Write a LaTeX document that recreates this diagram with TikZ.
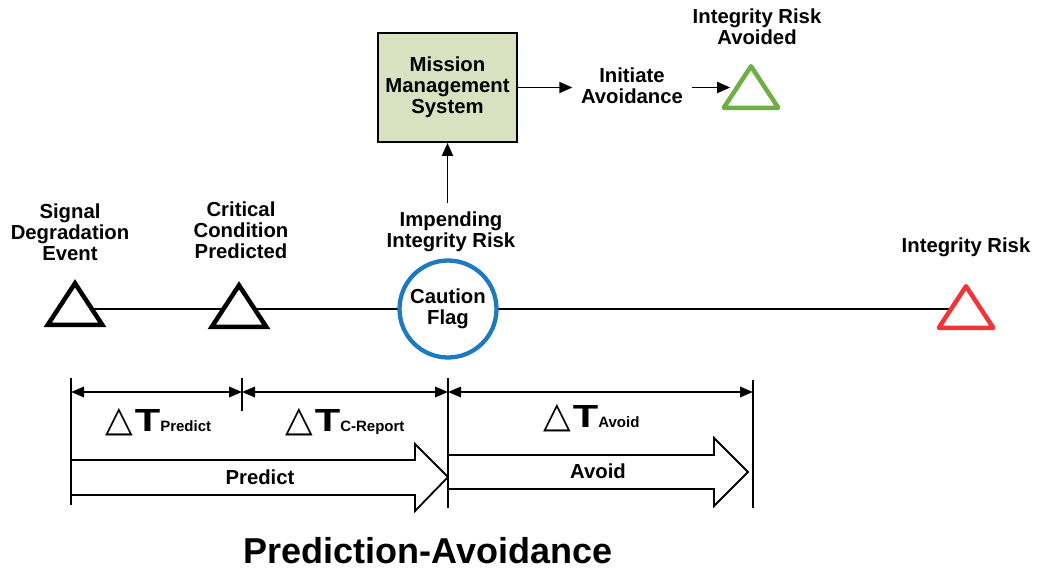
\documentclass[tikz,border=0pt]{standalone}
\usepackage{fontspec}
\usepackage{graphicx}
\setmainfont{Liberation Sans}
\newfontfamily\symfont{DejaVu Sans}
\usetikzlibrary{arrows.meta,shapes.geometric,backgrounds,calc}
\definecolor{boxgreen}{RGB}{216,226,192}
\definecolor{cfblue}{RGB}{30,122,190}
\definecolor{irred}{RGB}{240,52,58}
\definecolor{irgreen}{RGB}{112,173,71}
\begin{document}
\begin{tikzpicture}[x=1pt,y=-1pt,
  lbl/.style={font=\bfseries\fontsize{20.3}{21}\selectfont, align=center, inner sep=0pt},
  tri/.style={regular polygon, regular polygon sides=3, minimum size=63pt, yscale=0.88,
              inner sep=0pt, fill=white, line width=4.5pt, draw},
  thinline/.style={line width=1.8pt},
  arr/.style={thinline, -{Triangle[length=13pt,width=11pt]}},
  dim/.style={thinline, {Triangle[length=13pt,width=10.5pt]}-{Triangle[length=13pt,width=10.5pt]}},
  bigarrow/.style={thinline, fill=white, line join=miter},
  dlabel/.style={anchor=base west, inner sep=0pt},
]
\useasboundingbox (0,0) rectangle (1038,573);

% timeline markers
\node[tri] (t1) at (75,311) {};
\node[tri] (t2) at (239,313) {};
\node[circle, draw=cfblue, line width=4.3pt, minimum size=97pt, fill=white, lbl] (cf) at (448,309) {Caution\\Flag};
\node[tri, draw=irred, line join=round] (ir) at (966,314) {};
\node[tri, draw=irgreen, line join=round] (ira) at (751,94) {};

% box
\node[draw, fill=boxgreen, line width=1.8pt, minimum width=139pt, minimum height=109pt, lbl] (mms) at (447.5,87.5) {Mission\\Management\\System};

% labels
\node[lbl] (sde) at (70,232) {Signal\\Degradation\\Event};
\node[lbl] (ccp) at (241,230) {Critical\\Condition\\Predicted};
\node[lbl] (iir) at (451,231.5) {Impending\\Integrity Risk};
\node[lbl] (irl) at (966,247) {Integrity Risk};
\node[lbl] (iral) at (757,27) {Integrity Risk\\Avoided};
\node[lbl, inner xsep=8.5pt] (ia) at (632,86) {Initiate\\Avoidance};

% connectors
\begin{scope}[on background layer]
  \draw[thinline] (t1.center |- cf.center) -- (cf.center);
  \draw[thinline] (cf.center) -- (cf.center -| ir.center);
\end{scope}
\draw[arr, shorten <=8pt] (iir.north -| mms.south) -- (mms.south);
\draw[arr] (mms.east) -- (mms.east -| ia.west);
\draw[arr] (ia.east |- mms.east) -- (mms.east -| ira.west);

% big arrows
\coordinate (d0) at (71,378);
\coordinate (d1) at (242,378);
\coordinate (d2) at (448,378);
\coordinate (d3) at (753,380);
\draw[bigarrow] (71,460) -- (415,460) -- (415,444) -- (448,477) -- (415,511) -- (415,495) -- (71,495);
\node[lbl] (pred) at (260,477) {Predict};
\draw[bigarrow] (448,455) -- (714,455) -- (714,438) -- (748,472) -- (714,506) -- (714,489) -- (448,489);
\node[lbl] (avoid) at (598,471) {Avoid};

% dimension ticks
\draw[thinline] (d0) -- ++(0,127);
\draw[thinline] (d1) -- ++(0,33);
\draw[thinline] (d2) -- ++(0,130);
\draw[thinline] (d3) -- ++(0,128);
\draw[dim] ($(d0)+(0,14)$) -- ($(d1)+(0,14)$);
\draw[dim] ($(d1)+(0,14)$) -- ($(d2)+(0,14)$);
\draw[dim] ($(d2)+(0,14)$) -- ($(d3)+(0,12)$);

% delta T labels
\node[dlabel] (dtp) at (105,431) {{\symfont\fontsize{36}{36}\selectfont △}\hspace{2pt}{\bfseries\fontsize{32}{32}\selectfont\scalebox{1.3}[1]{T}}{\bfseries\fontsize{15}{15}\selectfont Predict}};
\node[dlabel] (dtc) at (285,431) {{\symfont\fontsize{36}{36}\selectfont △}\hspace{2pt}{\bfseries\fontsize{32}{32}\selectfont\scalebox{1.3}[1]{T}}{\bfseries\fontsize{15}{15}\selectfont C-Report}};
\node[dlabel] (dta) at (543,427) {{\symfont\fontsize{36}{36}\selectfont △}\hspace{2pt}{\bfseries\fontsize{32}{32}\selectfont\scalebox{1.3}[1]{T}}{\bfseries\fontsize{15}{15}\selectfont Avoid}};

% title
\node[font=\bfseries\fontsize{36}{36}\selectfont, anchor=base, inner sep=0pt] (title) at (428,563) {Prediction-Avoidance};
\end{tikzpicture}
\end{document}
